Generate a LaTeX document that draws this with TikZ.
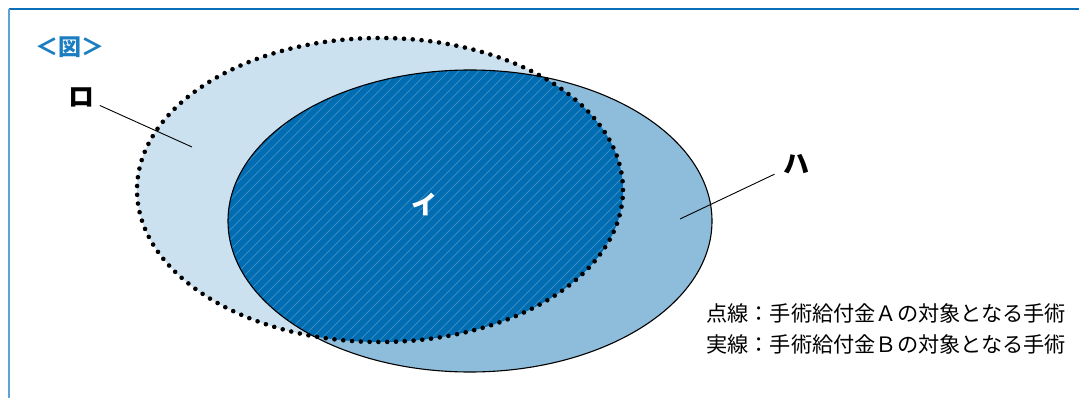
\documentclass[tikz,border=0pt]{standalone}
\usepackage{fontspec}
\setmainfont{Noto Sans CJK JP}
\definecolor{frameblue}{HTML}{0A6EB8}
\definecolor{frameleft}{HTML}{5DA3D6}
\definecolor{lightA}{HTML}{CCE1EF}
\definecolor{midB}{HTML}{8DBDDB}
\definecolor{darkAB}{HTML}{006CB2}
\definecolor{titleblue}{HTML}{1B7DC2}
\tikzset{
  setA/.style={x radius=243pt,y radius=152pt},
  setB/.style={x radius=242pt,y radius=151pt}
}
\begin{document}
\begin{tikzpicture}[x=1pt,y=-1pt,
    lbl/.style={inner sep=2pt,font=\fontsize{26}{26}\selectfont\bfseries},
    leader/.style={draw,line width=0.9pt},
    legend/.style={anchor=west,inner sep=0pt,font=\fontsize{21.2}{21.2}\selectfont}]
  \useasboundingbox (0,0) rectangle (1079,398);
  \fill[white] (0,0) rectangle (1079,398);
  % frame
  \draw[frameblue,line width=1.6pt] (9,9) -- (1079,9);
  \draw[frameleft,line width=1.6pt] (9,9) -- (9,398);
  % sets
  \coordinate (cA) at (380,190);
  \coordinate (cB) at (470,221);
  \fill[lightA] (cA) ellipse [setA];
  \fill[midB] (cB) ellipse [setB];
  \begin{scope}
    \clip (cA) ellipse [setA];
    \clip (cB) ellipse [setB];
    \fill[darkAB] (200,60) rectangle (640,350);
    \foreach \x in {-120,-110,...,660}
      \draw[white,opacity=.22,line width=.8pt] (\x,360) -- ++(300,-300);
  \end{scope}
  \draw[line width=1.1pt] (cB) ellipse [setB];
  \draw[line width=4.6pt,line cap=round,dash pattern=on 0pt off 8.8pt] (cA) ellipse [setA];
  % labels
  \node[text=titleblue,inner sep=0pt,font=\fontsize{23}{23}\selectfont\bfseries] (title) at (70,47) {＜図＞};
  \node[lbl] (ro) at (81,97) {ロ};
  \node[lbl] (ha) at (796,164) {ハ};
  \node[lbl,text=white] (i) at (424,204) {イ};
  \coordinate (roend) at (192,147);
  \coordinate (haend) at (680,219);
  \draw[leader,shorten <=4pt] (ro) -- (roend);
  \draw[leader,shorten <=7pt] (ha) -- (haend);
  % legend
  \node[legend] (legA) at (706,313) {点線：手術給付金Ａの対象となる手術};
  \node[legend] (legB) at (706,344) {実線：手術給付金Ｂの対象となる手術};
\end{tikzpicture}
\end{document}
